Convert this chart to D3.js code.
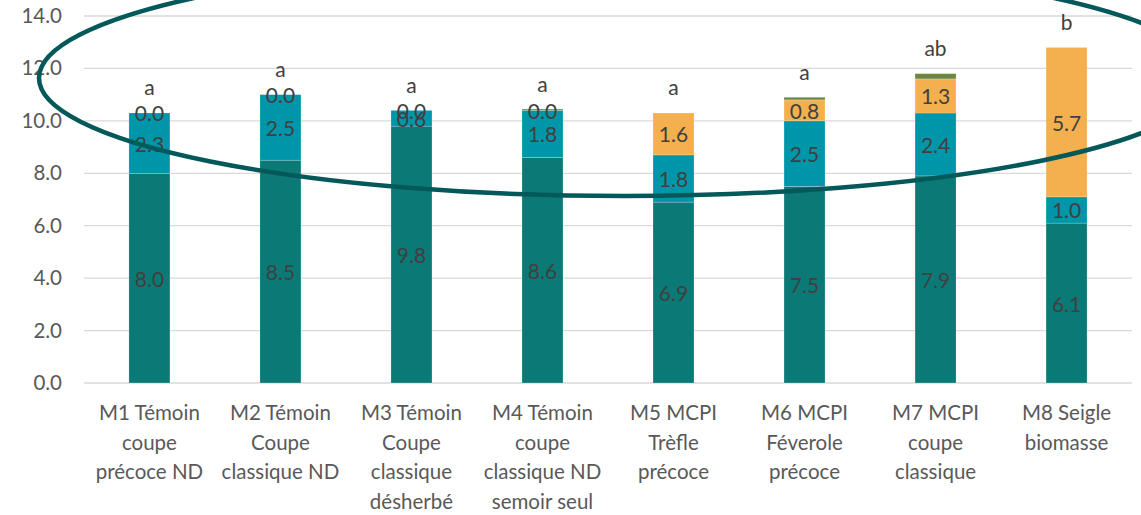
<!DOCTYPE html>
<html>
<head>
<meta charset="utf-8">
<script src="https://cdn.jsdelivr.net/npm/d3@7"></script>
<style>
  body { margin: 0; background: #fff; }
  svg text { font-family: Lato, "Open Sans", sans-serif; }
</style>
</head>
<body>
<svg id="mainsvg"></svg>
<script>
// data
let categories = ["M1", "M2", "M3", "M4", "M5", "M6", "M7", "M8"];
let categoryLines = [
    ["M1 Témoin", "coupe", "précoce ND"],
    ["M2 Témoin", "Coupe", "classique ND"],
    ["M3 Témoin", "Coupe", "classique", "désherbé"],
    ["M4 Témoin", "coupe", "classique ND", "semoir seul"],
    ["M5 MCPI", "Trèfle", "précoce"],
    ["M6 MCPI", "Féverole", "précoce"],
    ["M7 MCPI", "coupe", "classique"],
    ["M8 Seigle", "biomasse"]
];
let serie1 = [8.0, 8.5, 9.8, 8.6, 6.9, 7.5, 7.9, 6.1];
let serie2 = [2.3, 2.5, 0.6, 1.8, 1.8, 2.5, 2.4, 1.0];
let serie3 = [0.0, 0.0, 0.0, 0.0, 1.6, 0.8, 1.3, 5.7];
let serie4 = [0.0, 0.0, 0.0, 0.05, 0.0, 0.1, 0.2, 0.0];
let letters = ["a", "a", "a", "a", "a", "a", "ab", "b"];
let yTicks = [0, 2, 4, 6, 8, 10, 12, 14];

let seriesKeys = ["s1", "s2", "s3", "s4"];
let colors = {s1: "#0B7A77", s2: "#0096A9", s3: "#F4B04F", s4: "#6E8644"};
let labelled = {s1: true, s2: true, s3: true, s4: false};

let svgWidth = 1141, svgHeight = 515;
let mainsvg = d3.select("#mainsvg").attr("width", svgWidth).attr("height", svgHeight);

let table = categories.map((c, i) => ({cat: c, s1: serie1[i], s2: serie2[i], s3: serie3[i], s4: serie4[i]}));
let stacked = d3.stack().keys(seriesKeys)(table);

let scaleX = d3.scaleBand().domain(categories).range([84, 1132]).paddingInner(0.687).paddingOuter(0.343);
let scaleY = d3.scaleLinear().domain([0, 14]).range([383, 16]);

// gridlines
mainsvg.append("g").selectAll("line").data(yTicks).enter().append("line")
    .attr("x1", 84).attr("x2", 1132)
    .attr("y1", d => scaleY(d)).attr("y2", d => scaleY(d))
    .attr("stroke", "#d9d9d9").attr("stroke-width", 1.3);

// y axis
let yAxis = mainsvg.append("g").attr("transform", "translate(62,0)")
    .call(d3.axisLeft(scaleY).tickValues(yTicks).tickFormat(d3.format(".1f")).tickSize(0).tickPadding(0));
yAxis.select(".domain").remove();
yAxis.selectAll("text").attr("fill", "#595959").style("font-size", "20.5px").style("font-family", "Lato, sans-serif");

// bars
let layers = mainsvg.append("g").selectAll("g").data(stacked).enter().append("g")
    .attr("fill", d => colors[d.key]);
layers.selectAll("rect").data(d => d).enter().append("rect")
    .attr("x", d => scaleX(d.data.cat))
    .attr("width", scaleX.bandwidth())
    .attr("y", d => scaleY(d[1]))
    .attr("height", d => scaleY(d[0]) - scaleY(d[1]))
    .attr("stroke", "rgba(255,255,255,0.35)").attr("stroke-width", 0.6);

// data labels
stacked.forEach(layer => {
    if (!labelled[layer.key]) return;
    mainsvg.append("g").selectAll("text").data(layer).enter().append("text")
        .attr("x", d => scaleX(d.data.cat) + scaleX.bandwidth() / 2)
        .attr("y", d => scaleY((d[0] + d[1]) / 2))
        .attr("text-anchor", "middle").attr("dominant-baseline", "central")
        .attr("fill", "#404040").style("font-size", "21px")
        .text(d => d3.format(".1f")(d[1] - d[0]));
});

// significance letters
let totals = table.map(d => d.s1 + d.s2 + d.s3 + d.s4);
mainsvg.append("g").selectAll("text").data(letters).enter().append("text")
    .attr("x", (d, i) => scaleX(categories[i]) + scaleX.bandwidth() / 2)
    .attr("y", (d, i) => scaleY(totals[i]) - 26)
    .attr("text-anchor", "middle").attr("dominant-baseline", "central")
    .attr("fill", "#404040").style("font-size", "21px")
    .text(d => d);

// category labels
let catG = mainsvg.append("g").selectAll("text").data(categoryLines).enter().append("text")
    .attr("text-anchor", "middle").attr("fill", "#595959").style("font-size", "20.5px");
catG.selectAll("tspan").data((d, i) => d.map(t => ({t: t, cat: categories[i]}))).enter().append("tspan")
    .attr("x", d => scaleX(d.cat) + scaleX.bandwidth() / 2)
    .attr("y", (d, j) => 420 + j * 29.5)
    .text(d => d.t);

// highlight ellipse
mainsvg.append("ellipse")
    .attr("cx", 624).attr("cy", 78).attr("rx", 585).attr("ry", 118)
    .attr("fill", "none").attr("stroke", "#03585A").attr("stroke-width", 4.5);
</script>
</body>
</html>
